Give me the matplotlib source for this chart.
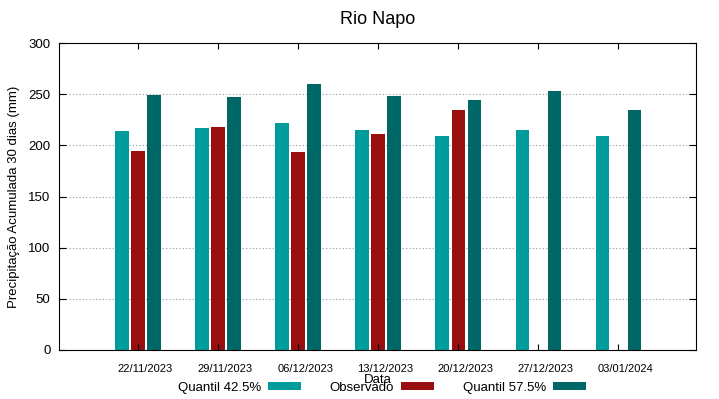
import numpy as np
import matplotlib.pyplot as plt

plt.rcParams['font.family'] = ['Liberation Sans', 'DejaVu Sans']

datas = ['22/11/2023', '29/11/2023', '06/12/2023', '13/12/2023',
         '20/12/2023', '27/12/2023', '03/01/2024']
q425 = [214, 217, 222, 215, 209, 215, 209]
observado = [194.5, 217.5, 194, 211, 235, np.nan, np.nan]
q575 = [249.5, 247, 260, 248, 244, 253, 235]

c_q425 = '#009b9b'
c_obs = '#990e0e'
c_q575 = '#006666'

fig = plt.figure(figsize=(7.19, 3.99), dpi=100)
ax = fig.add_axes([0.082, 0.123, 0.886, 0.769])

x = np.arange(len(datas))
w = 0.17
b1 = ax.bar(x - 0.2, q425, w, color=c_q425)
b2 = ax.bar(x, observado, w, color=c_obs)
b3 = ax.bar(x + 0.2, q575, w, color=c_q575)

ax.set_xlim(-0.99, 6.97)
ax.set_ylim(0, 300)
ax.set_yticks(range(0, 301, 50))
# tick marks at group centre, labels drawn a little to the right (gnuplot look)
ax.set_xticks(x, [''] * len(x))
ax.set_xticks(x + 0.09, datas, minor=True)
ax.tick_params(axis='x', which='minor', length=0, labelsize=8, pad=10)
ax.tick_params(axis='y', labelsize=9.5, direction='in', right=True, length=5, pad=6)
ax.tick_params(axis='x', which='major', direction='in', top=True, length=4)
for y in range(50, 300, 50):
    ax.axhline(y, color='#999999', linestyle=(0, (1, 2)), linewidth=0.8, zorder=0)

ax.set_title('Rio Napo', fontsize=13, pad=14)
ax.set_ylabel('Precipitação Acumulada 30 dias (mm)', fontsize=9.5, labelpad=6)
ax.set_xlabel('Data', fontsize=9.5, labelpad=0)

fig.legend([b1, b2, b3], ['Quantil 42.5%', 'Observado', 'Quantil 57.5%'],
           loc='center', bbox_to_anchor=(0.531, 0.028), ncol=3, frameon=False,
           markerfirst=False, fontsize=9.5, handlelength=2.5, handleheight=0.5,
           columnspacing=2.2, handletextpad=0.5)

fig.savefig('out.png', dpi=100)
